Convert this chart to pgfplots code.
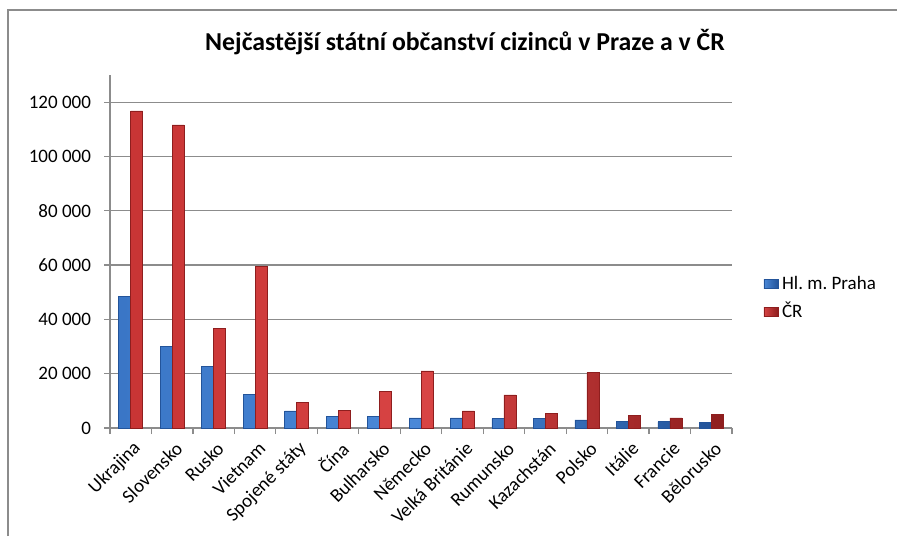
\documentclass[border=0pt]{standalone}
\usepackage{fontspec}
\setmainfont{Carlito}
\usepackage{pgfplots}
\pgfplotsset{compat=1.18}
\frenchspacing
\definecolor{blueL}{HTML}{4A88D8}
\definecolor{blueM}{HTML}{3A76C6}
\definecolor{blueD}{HTML}{23549A}
\definecolor{redL}{HTML}{D84444}
\definecolor{redM}{HTML}{C83535}
\definecolor{redD}{HTML}{8E1E1E}
\definecolor{gridc}{HTML}{8C8C8C}
\newcommand{\ks}{\hspace{0.23em}}
\begin{document}
\begin{tikzpicture}
\useasboundingbox (0pt,0pt) rectangle (448.5pt,268pt);
\draw[color=gridc, line width=0.8pt] (4pt,0pt) -- (4pt,263pt) -- (448.5pt,263pt);
\node[font=\fontsize{12.9}{15}\selectfont\bfseries] at (232.5pt,247pt) {Nejčastější státní občanství cizinců v Praze a v ČR};
\begin{axis}[
  at={(55pt,54pt)}, anchor=south west,
  scale only axis, width=311pt, height=176.5pt,
  xmin=-0.5, xmax=14.5, ymin=0, ymax=130000,
  enlargelimits=false,
  ybar=0pt, bar width=6pt,
  axis x line*=bottom, axis y line*=left,
  axis line style={gridc, line width=0.6pt},
  ytick={0,20000,40000,60000,80000,100000,120000},
  scaled y ticks=false,
  yticklabels={0,{20\ks000},{40\ks000},{60\ks000},{80\ks000},{100\ks000},{120\ks000}},
  yticklabel style={xshift=-3pt},
  xtick={-0.5,0.5,...,14.5},
  x tick label as interval,
  xticklabels={Ukrajina,Slovensko,Rusko,Vietnam,Spojené státy,Čína,Bulharsko,Německo,Velká Británie,Rumunsko,Kazachstán,Polsko,Itálie,Francie,Bělorusko},
  xticklabel style={rotate=45, anchor=east, inner sep=1pt, xshift=-0.5pt, yshift=-6.5pt},
  tick align=outside, major tick length=3pt,
  tick style={gridc, line width=0.6pt},
  ymajorgrids, grid style={gridc, line width=0.6pt},
  ticklabel style={font=\fontsize{9.5}{11}\selectfont},
  legend style={at={(1.05,0.367)}, anchor=west, draw=none, fill=none,
     font=\fontsize{9.5}{11}\selectfont, row sep=3pt, inner sep=0pt,
     nodes={inner xsep=2pt, inner ysep=1pt}},
  legend cell align=left,
]
\addplot[draw=blueD, line width=0.3pt, left color=blueM, right color=blueD, middle color=blueL,
  legend image code/.code={\fill[left color=blueL, right color=blueD] (0pt,-2.25pt) rectangle (7pt,2.25pt);}]
  coordinates {(0,48600) (1,30000) (2,22600) (3,12300) (4,6300) (5,4400) (6,4400) (7,3700) (8,3700) (9,3500) (10,3500) (11,3000) (12,2300) (13,2300) (14,2000)};
\addplot[draw=redD, line width=0.3pt, left color=redM, right color=redD, middle color=redL,
  legend image code/.code={\fill[left color=redL, right color=redD] (0pt,-2.25pt) rectangle (7pt,2.25pt);}]
  coordinates {(0,116800) (1,111600) (2,36600) (3,59600) (4,9300) (5,6600) (6,13500) (7,21000) (8,6300) (9,12200) (10,5500) (11,20400) (12,4700) (13,3700) (14,5100)};
\legend{Hl. m. Praha, ČR}
\end{axis}
\end{tikzpicture}
\end{document}
